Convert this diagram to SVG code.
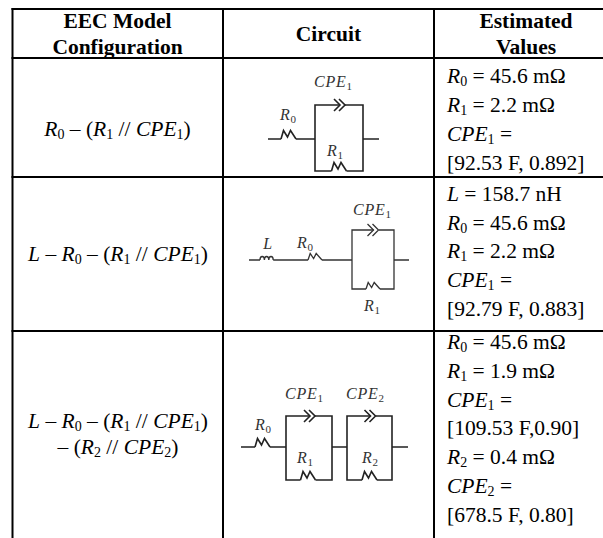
<svg xmlns="http://www.w3.org/2000/svg" xmlns:xlink="http://www.w3.org/1999/xlink" width="603" height="538" viewBox="0 0 603 538">
<style>
.t{font-family:"Liberation Serif","Times New Roman",serif;font-size:21.5px;fill:#000}
.h{font-weight:bold}
.i{font-style:italic}
.s{font-size:14px}
.lbl{font-family:"Liberation Serif","Times New Roman",serif;font-style:italic;font-size:16px;letter-spacing:0.8px;fill:#333}
.ls{font-style:normal;font-size:11px;letter-spacing:0}
.w{fill:none;stroke:#222;stroke-width:1.6;stroke-linejoin:miter}
.w2{fill:none;stroke:#333;stroke-width:1.3}
.grid{stroke:#000;stroke-width:2;fill:none}
</style>
<defs>
<path id="res" d="M0,0 L2.5,-8.5 L6.5,-2 L9.5,-8.5 L15,0"/>
<path id="ress" d="M0,0 L2.2,-6.5 L5.6,-1.5 L8.2,-6.5 L14,0"/>
<path id="cpe" d="M0,-6 L6,0 L0,6 M5,-6 L11,0 L5,6"/>
<path id="ind" d="M0,0 a2.2,3.5 0 0 1 4.4,0 a2.2,3.5 0 0 1 4.4,0 a2.2,3.5 0 0 1 4.4,0"/>
</defs>
<rect width="603" height="538" fill="#fff"/>

<g id="grid" class="grid">
<line x1="12.5" y1="8" x2="12.5" y2="538"/>
<line x1="223" y1="8" x2="223" y2="538"/>
<line x1="434" y1="8" x2="434" y2="538"/>
<line x1="11.5" y1="9" x2="603" y2="9"/>
<line x1="11.5" y1="58" x2="603" y2="58"/>
<line x1="11.5" y1="177" x2="603" y2="177"/>
<line x1="11.5" y1="331" x2="603" y2="331"/>
</g>

<g id="header">
<text class="t h" text-anchor="middle" x="117.5" y="28">EEC Model</text>
<text class="t h" text-anchor="middle" x="117.5" y="54">Configuration</text>
<text class="t h" text-anchor="middle" x="328.5" y="41">Circuit</text>
<text class="t h" text-anchor="middle" x="526" y="28">Estimated</text>
<text class="t h" text-anchor="middle" x="526" y="54">Values</text>
</g>

<g id="config1">
<text class="t" text-anchor="middle" x="117.5" y="136"><tspan class="i">R</tspan><tspan class="s" dy="3">0</tspan><tspan dy="-3"> – (</tspan><tspan class="i">R</tspan><tspan class="s" dy="3">1</tspan><tspan dy="-3"> // </tspan><tspan class="i">CPE</tspan><tspan class="s" dy="3">1</tspan><tspan dy="-3">)</tspan></text>
</g>
<g id="config2">
<text class="t" text-anchor="middle" x="118" y="261"><tspan class="i">L</tspan> – <tspan class="i">R</tspan><tspan class="s" dy="3">0</tspan><tspan dy="-3"> – (</tspan><tspan class="i">R</tspan><tspan class="s" dy="3">1</tspan><tspan dy="-3"> // </tspan><tspan class="i">CPE</tspan><tspan class="s" dy="3">1</tspan><tspan dy="-3">)</tspan></text>
</g>
<g id="config3">
<text class="t" text-anchor="middle" x="118" y="428"><tspan class="i">L</tspan> – <tspan class="i">R</tspan><tspan class="s" dy="3">0</tspan><tspan dy="-3"> – (</tspan><tspan class="i">R</tspan><tspan class="s" dy="3">1</tspan><tspan dy="-3"> // </tspan><tspan class="i">CPE</tspan><tspan class="s" dy="3">1</tspan><tspan dy="-3">)</tspan></text>
<text class="t" text-anchor="middle" x="118" y="454">– (<tspan class="i">R</tspan><tspan class="s" dy="3">2</tspan><tspan dy="-3"> // </tspan><tspan class="i">CPE</tspan><tspan class="s" dy="3">2</tspan><tspan dy="-3">)</tspan></text>
</g>

<g id="circuit1">
<g class="w">
<path d="M268,139 H281 M296,139 H315 M363,139 H379"/>
<use xlink:href="#res" x="281" y="139"/>
<path d="M339.5,105 H315 V171 H331.5 M346.5,171 H363 V105 H345"/>
<use xlink:href="#cpe" x="334" y="105"/>
<use xlink:href="#res" x="331.5" y="171"/>
</g>
<text class="lbl" text-anchor="middle" x="333" y="87">CPE<tspan class="ls" dy="3">1</tspan></text>
<text class="lbl" text-anchor="middle" x="288" y="120">R<tspan class="ls" dy="3">0</tspan></text>
<text class="lbl" text-anchor="middle" x="335" y="156">R<tspan class="ls" dy="3">1</tspan></text>
</g>

<g id="circuit2">
<g class="w2">
<path d="M249,260 H260 M273.2,260 H308 M322,260 H352 M394,260 H409"/>
<use xlink:href="#ind" x="260" y="260"/>
<use xlink:href="#ress" x="308" y="260"/>
<path d="M373.5,230 H352 V289 H366 M380,289 H394 V230 H379"/>
<use xlink:href="#cpe" x="367.5" y="230"/>
<use xlink:href="#ress" x="366" y="289"/>
</g>
<text class="lbl" text-anchor="middle" x="268" y="249">L</text>
<text class="lbl" text-anchor="middle" x="305" y="248">R<tspan class="ls" dy="3">0</tspan></text>
<text class="lbl" text-anchor="middle" x="372" y="215">CPE<tspan class="ls" dy="3">1</tspan></text>
<text class="lbl" text-anchor="middle" x="372" y="311">R<tspan class="ls" dy="3">1</tspan></text>
</g>

<g id="circuit3">
<g class="w">
<path d="M241,447 H255 M270,447 H286 M332,447 H347 M392,447 H408"/>
<use xlink:href="#res" x="255" y="447"/>
<path d="M309.5,416 H286 V480 H300.5 M315.5,480 H332 V416 H315"/>
<use xlink:href="#cpe" x="304" y="416"/>
<use xlink:href="#res" x="300.5" y="480"/>
<path d="M370,416 H347 V480 H362 M377,480 H392 V416 H375.5"/>
<use xlink:href="#cpe" x="364.5" y="416"/>
<use xlink:href="#res" x="362" y="480"/>
</g>
<text class="lbl" text-anchor="middle" x="304" y="399">CPE<tspan class="ls" dy="3">1</tspan></text>
<text class="lbl" text-anchor="middle" x="365" y="399">CPE<tspan class="ls" dy="3">2</tspan></text>
<text class="lbl" text-anchor="middle" x="263" y="430">R<tspan class="ls" dy="3">0</tspan></text>
<text class="lbl" text-anchor="middle" x="305" y="463">R<tspan class="ls" dy="3">1</tspan></text>
<text class="lbl" text-anchor="middle" x="370" y="463">R<tspan class="ls" dy="3">2</tspan></text>
</g>

<g id="values1">
<text class="t" x="447" y="83"><tspan class="i">R</tspan><tspan class="s" dy="3">0</tspan><tspan dy="-3"> = 45.6 mΩ</tspan></text>
<text class="t" x="447" y="112"><tspan class="i">R</tspan><tspan class="s" dy="3">1</tspan><tspan dy="-3"> = 2.2 mΩ</tspan></text>
<text class="t" x="447" y="141"><tspan class="i">CPE</tspan><tspan class="s" dy="3">1</tspan><tspan dy="-3"> =</tspan></text>
<text class="t" x="447" y="170">[92.53 F, 0.892]</text>
</g>
<g id="values2">
<text class="t" x="447" y="201"><tspan class="i">L</tspan> = 158.7 nH</text>
<text class="t" x="447" y="229.7"><tspan class="i">R</tspan><tspan class="s" dy="3">0</tspan><tspan dy="-3"> = 45.6 mΩ</tspan></text>
<text class="t" x="447" y="258.4"><tspan class="i">R</tspan><tspan class="s" dy="3">1</tspan><tspan dy="-3"> = 2.2 mΩ</tspan></text>
<text class="t" x="447" y="287.1"><tspan class="i">CPE</tspan><tspan class="s" dy="3">1</tspan><tspan dy="-3"> =</tspan></text>
<text class="t" x="447" y="315.8">[92.79 F, 0.883]</text>
</g>
<g id="values3">
<text class="t" x="447" y="349"><tspan class="i">R</tspan><tspan class="s" dy="3">0</tspan><tspan dy="-3"> = 45.6 mΩ</tspan></text>
<text class="t" x="447" y="377.8"><tspan class="i">R</tspan><tspan class="s" dy="3">1</tspan><tspan dy="-3"> = 1.9 mΩ</tspan></text>
<text class="t" x="447" y="406.6"><tspan class="i">CPE</tspan><tspan class="s" dy="3">1</tspan><tspan dy="-3"> =</tspan></text>
<text class="t" x="447" y="435.4">[109.53 F,0.90]</text>
<text class="t" x="447" y="464.2"><tspan class="i">R</tspan><tspan class="s" dy="3">2</tspan><tspan dy="-3"> = 0.4 mΩ</tspan></text>
<text class="t" x="447" y="493"><tspan class="i">CPE</tspan><tspan class="s" dy="3">2</tspan><tspan dy="-3"> =</tspan></text>
<text class="t" x="447" y="521.8">[678.5 F, 0.80]</text>
</g>
</svg>
